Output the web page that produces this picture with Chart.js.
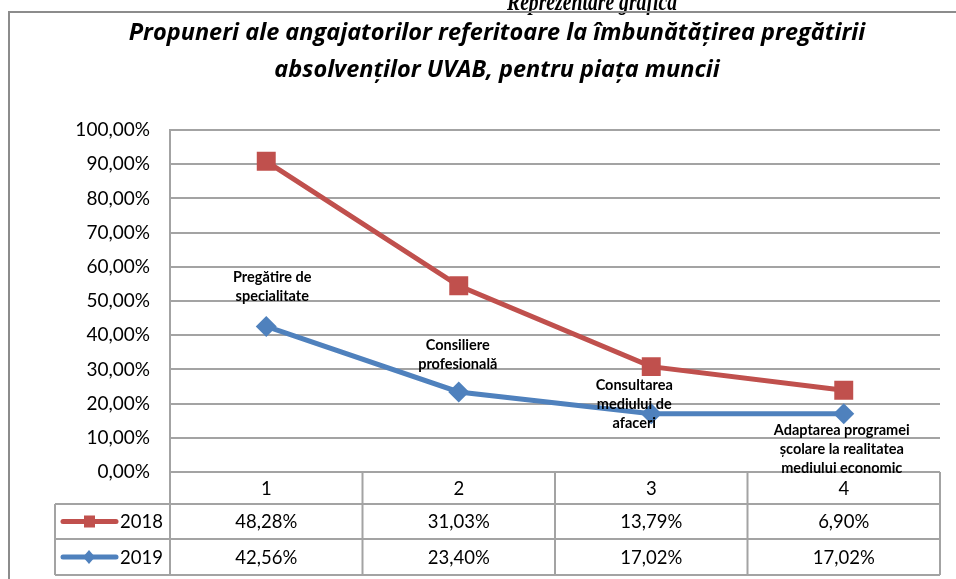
<!DOCTYPE html>
<html>
<head>
<meta charset="utf-8">
<script src="https://cdn.jsdelivr.net/npm/chart.js@4/dist/chart.umd.min.js"></script>
<style>
  body { margin: 0; background: #fff; }
  #wrap { width: 956px; height: 579px; position: relative; }
</style>
</head>
<body>
<div id="wrap"><canvas id="chart"></canvas></div>
<script>
// date
const categories = ['1', '2', '3', '4'];
const categoryNames = [
    ['Pregătire de', 'specialitate'],
    ['Consiliere', 'profesională'],
    ['Consultarea', 'mediului de', 'afaceri'],
    ['Adaptarea programei', 'școlare la realitatea', 'mediului economic']
];
const values2018 = [48.28, 31.03, 13.79, 6.90];
const values2019 = [42.56, 23.40, 17.02, 17.02];
const yTicks = [0, 10, 20, 30, 40, 50, 60, 70, 80, 90, 100];

const RED = '#C0504D';
const BLUE = '#4F81BD';
const GRID = '#a3a3a3';
const FONT = 'Lato, "Open Sans", sans-serif';

// pozitia etichetelor fata de punctele 2019 (dx, dy al centrului blocului)
const labelOffsets = [[6, -40], [-1, -37], [-17, -9], [-2, 36]];

function fmt(v) {
    return v.toFixed(2).replace('.', ',') + '%';
}

const extras = {
    id: 'extras',
    beforeDraw(chart) {
        const ctx = chart.ctx;
        ctx.save();
        ctx.fillStyle = '#fff';
        ctx.fillRect(0, 0, chart.width, chart.height);
        ctx.restore();
    },
    afterDatasetsDraw(chart) {
        const ctx = chart.ctx;
        const meta = chart.getDatasetMeta(0); // 2019
        ctx.save();
        ctx.fillStyle = '#000';
        ctx.font = 'bold 14.5px ' + FONT;
        ctx.textAlign = 'center';
        ctx.textBaseline = 'middle';
        meta.data.forEach((pt, i) => {
            const lines = categoryNames[i];
            const lh = 19;
            const cx = pt.x + labelOffsets[i][0];
            const cy = pt.y + labelOffsets[i][1];
            const y0 = cy - (lines.length - 1) * lh / 2;
            lines.forEach((t, j) => ctx.fillText(t, cx, y0 + j * lh));
        });
        ctx.restore();
    },
    afterDraw(chart) {
        const ctx = chart.ctx;
        const area = chart.chartArea;
        ctx.save();

        // text taiat deasupra (iesit din cadru)
        ctx.fillStyle = '#000';
        ctx.font = 'italic bold 26px "Liberation Serif", serif';
        ctx.textAlign = 'center';
        ctx.textBaseline = 'alphabetic';
        const head = 'Reprezentare grafică';
        const sx = 170 / ctx.measureText(head).width;
        ctx.save();
        ctx.translate(592, 10);
        ctx.scale(sx, 1);
        ctx.fillText(head, 0, 0);
        ctx.restore();

        // cadru exterior
        ctx.strokeStyle = '#8c8c8c';
        ctx.lineWidth = 2;
        ctx.beginPath();
        ctx.moveTo(9, chart.height);
        ctx.lineTo(9, 12);
        ctx.lineTo(chart.width, 12);
        ctx.stroke();

        // titlu
        ctx.fillStyle = '#000';
        ctx.font = 'italic bold 23.5px "Open Sans", sans-serif';
        ctx.textBaseline = 'middle';
        ctx.fillText('Propuneri ale angajatorilor referitoare la îmbunătățirea pregătirii', 497, 33);
        ctx.fillText('absolvenților UVAB, pentru piața muncii', 497, 70);

        // tabel de date
        const colW = (area.right - area.left) / categories.length;
        const top = area.bottom;
        const rows = [top, 504, 539, 575];
        const legendLeft = 55;
        ctx.strokeStyle = GRID;
        ctx.lineWidth = 2;
        ctx.beginPath();
        for (let r = 1; r < rows.length; r++) {
            ctx.moveTo(legendLeft, rows[r]);
            ctx.lineTo(area.right, rows[r]);
        }
        for (let c = 0; c <= categories.length; c++) {
            const x = area.left + c * colW;
            ctx.moveTo(x, top);
            ctx.lineTo(x, rows[3]);
        }
        ctx.moveTo(legendLeft, rows[1]);
        ctx.lineTo(legendLeft, rows[3]);
        ctx.stroke();

        const xs = chart.scales.x;
        ctx.fillStyle = '#000';
        ctx.font = '18.5px ' + FONT;
        ctx.textAlign = 'center';
        ctx.textBaseline = 'middle';
        categories.forEach((c, i) => {
            const x = xs.getPixelForValue(i);
            ctx.fillText(c, x, (rows[0] + rows[1]) / 2 + 1);
            ctx.fillText(fmt(values2018[i]), x, (rows[1] + rows[2]) / 2 + 1);
            ctx.fillText(fmt(values2019[i]), x, (rows[2] + rows[3]) / 2 + 1);
        });

        // chei de legenda
        const series = [
            { name: '2018', color: RED, y: (rows[1] + rows[2]) / 2, style: 'rect' },
            { name: '2019', color: BLUE, y: (rows[2] + rows[3]) / 2, style: 'rectRot' }
        ];
        series.forEach(s => {
            ctx.strokeStyle = s.color;
            ctx.fillStyle = s.color;
            ctx.lineWidth = 5;
            ctx.lineCap = 'round';
            ctx.beginPath();
            ctx.moveTo(63, s.y);
            ctx.lineTo(116, s.y);
            ctx.stroke();
            if (s.style === 'rect') {
                ctx.fillRect(84, s.y - 6, 11, 12);
            } else {
                ctx.beginPath();
                ctx.moveTo(89, s.y - 7);
                ctx.lineTo(95, s.y);
                ctx.lineTo(89, s.y + 7);
                ctx.lineTo(83, s.y);
                ctx.closePath();
                ctx.fill();
            }
            ctx.fillStyle = '#000';
            ctx.textAlign = 'left';
            ctx.fillText(s.name, 120, s.y + 1);
        });

        ctx.restore();
    }
};

new Chart(document.getElementById('chart'), {
    type: 'line',
    data: {
        labels: categories,
        datasets: [
            {
                label: '2019',
                data: values2019,
                borderColor: BLUE,
                backgroundColor: BLUE,
                borderWidth: 5,
                pointStyle: 'rectRot',
                pointRadius: 10.5,
                pointBorderWidth: 0,
                fill: false,
                tension: 0
            },
            {
                label: '2018',
                data: values2018,
                borderColor: RED,
                backgroundColor: RED,
                borderWidth: 5,
                pointStyle: 'rect',
                pointRadius: 13.4,
                pointBorderWidth: 0,
                fill: false,
                tension: 0
            }
        ]
    },
    options: {
        responsive: true,
        maintainAspectRatio: false,
        animation: false,
        layout: { padding: { left: 0, right: 16, top: 130, bottom: 107 } },
        plugins: {
            legend: { display: false },
            tooltip: { enabled: false },
            title: { display: false }
        },
        scales: {
            x: {
                offset: true,
                afterFit(scale) { scale.height = 0; },
                grid: { display: false },
                border: { display: false },
                ticks: { display: false }
            },
            y: {
                stacked: true,
                min: 0,
                max: 100,
                afterFit(scale) { scale.width = 170; },
                afterBuildTicks(scale) { scale.ticks = yTicks.map(v => ({ value: v })); },
                grid: { color: GRID, lineWidth: 2, drawTicks: false },
                border: { display: true, color: GRID, width: 2 },
                ticks: {
                    padding: 20,
                    color: '#000',
                    font: { family: FONT, size: 19 },
                    callback: v => fmt(v)
                }
            }
        }
    },
    plugins: [extras]
});
</script>
</body>
</html>
